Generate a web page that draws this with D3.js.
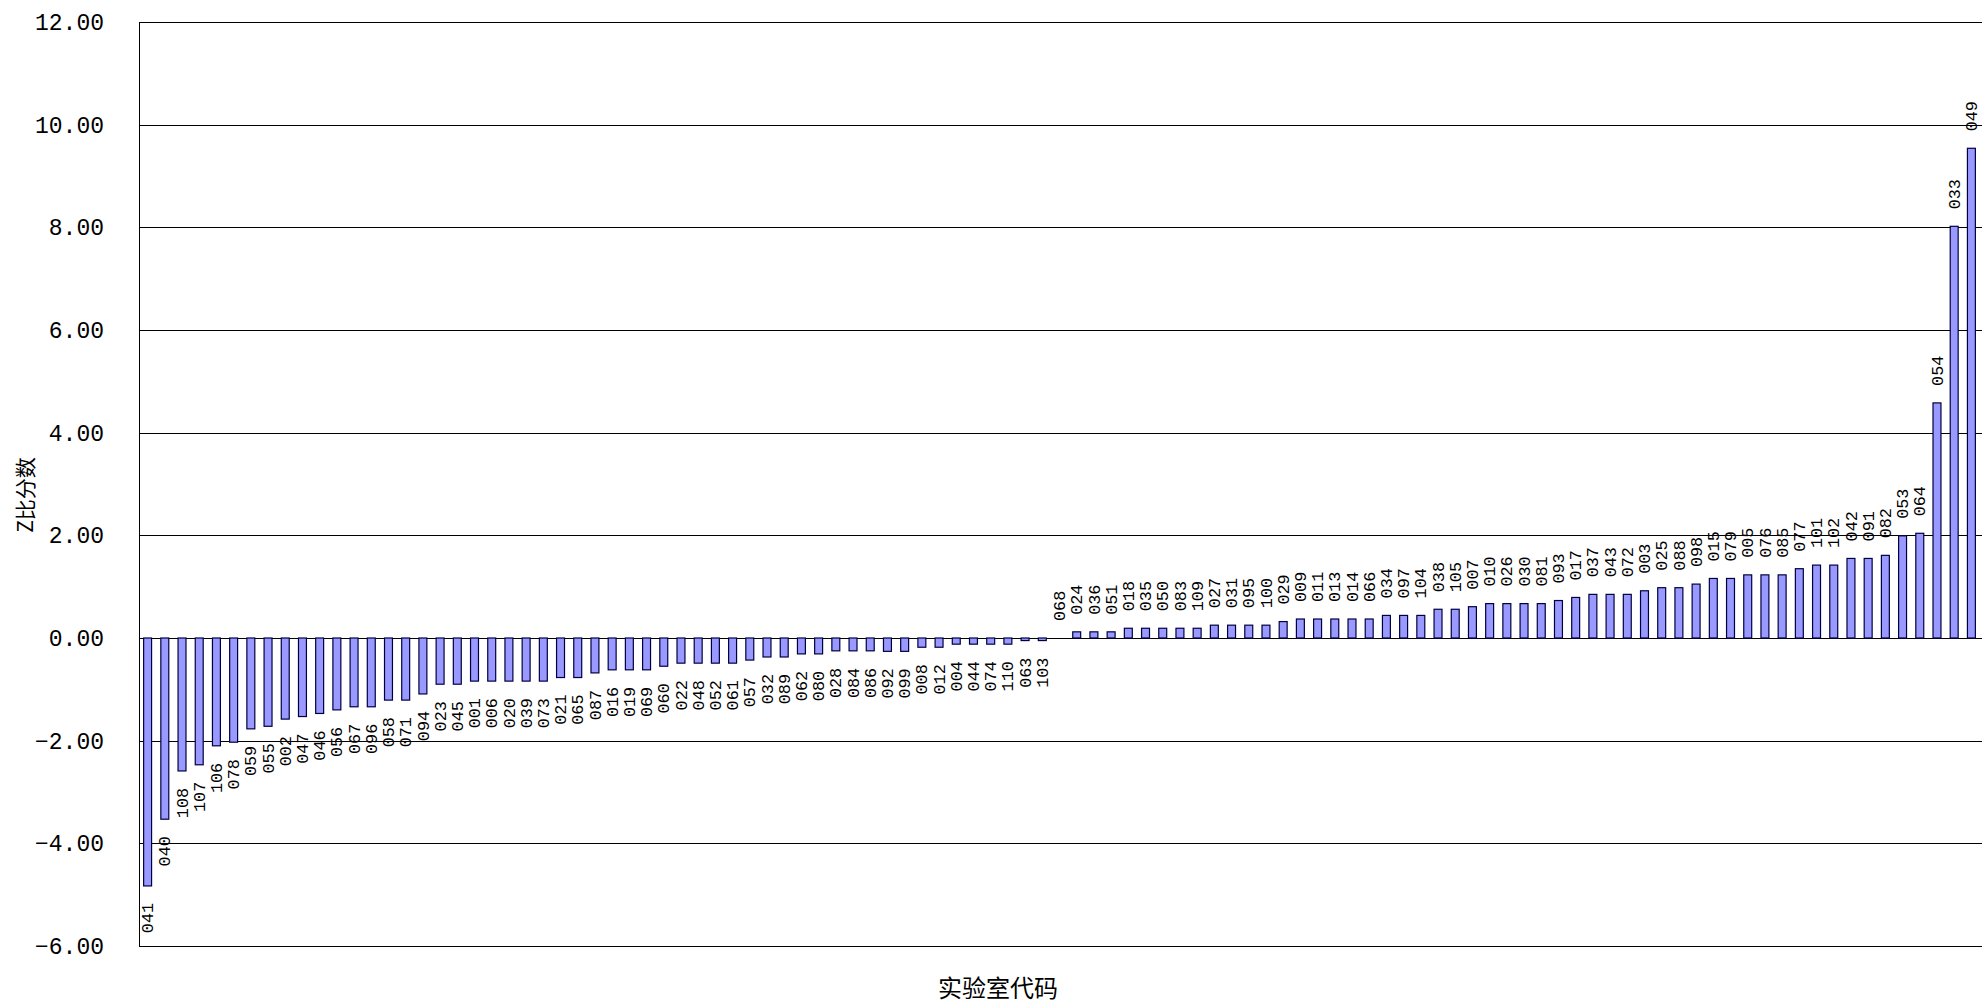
<!DOCTYPE html>
<html>
<head>
<meta charset="utf-8">
<script src="https://cdn.jsdelivr.net/npm/d3@7"></script>
<style>
  html, body { margin: 0; padding: 0; background: #fff; }
  svg { display: block; }
</style>
</head>
<body>
<svg id="chart" width="1982" height="1003"></svg>
<script>
const labs = ["041","040","108","107","106","078","059","055","002","047","046","056","067","096","058","071","094","023","045","001","006","020","039","073","021","065","087","016","019","069","060","022","048","052","061","057","032","089","062","080","028","084","086","092","099","008","012","004","044","074","110","063","103",
"068","024","036","051","018","035","050","083","109","027","031","095","100","029","009","011","013","014","066","034","097","104","038","105","007","010","026","030","081","093","017","037","043","072","003","025","088","098","015","079","005","076","085","077","101","102","042","091","082","053","064","054","033","049"];

const zscores = [-4.83,-3.53,-2.59,-2.47,-2.10,-2.03,-1.77,-1.72,-1.58,-1.53,-1.47,-1.40,-1.34,-1.34,-1.21,-1.21,-1.09,-0.90,-0.90,-0.84,-0.84,-0.84,-0.84,-0.84,-0.77,-0.77,-0.68,-0.62,-0.62,-0.62,-0.55,-0.49,-0.49,-0.49,-0.49,-0.43,-0.37,-0.37,-0.31,-0.31,-0.25,-0.25,-0.25,-0.26,-0.26,-0.18,-0.18,-0.12,-0.12,-0.12,-0.12,-0.05,-0.05,
0.00,0.12,0.12,0.12,0.19,0.19,0.19,0.19,0.19,0.25,0.25,0.25,0.25,0.32,0.37,0.37,0.37,0.37,0.37,0.44,0.44,0.44,0.56,0.56,0.61,0.67,0.67,0.67,0.67,0.73,0.79,0.85,0.85,0.85,0.92,0.98,0.98,1.05,1.16,1.16,1.23,1.23,1.23,1.35,1.42,1.42,1.55,1.55,1.61,1.99,2.04,4.58,8.02,9.54];

const yTicks = [-6,-4,-2,0,2,4,6,8,10,12];
const xTitle = "实验室代码";
const yTitle = "Z比分数";

const svg = d3.select("#chart");
const pL = 139, pR = 1980, pT = 22, pB = 946;

const x = d3.scaleBand().domain(labs).range([pL, pR]).paddingInner(0.48).paddingOuter(0.24);
const y = d3.scaleLinear().domain([-6, 12]).range([pB, pT]);

svg.append("rect").attr("width", 1982).attr("height", 1003).attr("fill", "#fff");

// gridlines
svg.append("g").selectAll("line").data(yTicks).join("line")
  .attr("x1", pL).attr("x2", 1982)
  .attr("y1", d => Math.round(y(d)) + 0.5).attr("y2", d => Math.round(y(d)) + 0.5)
  .attr("stroke", "#000").attr("stroke-width", 1);

// plot border
svg.append("rect")
  .attr("x", pL + 0.5).attr("y", Math.round(y(12)) + 0.5)
  .attr("width", 1982 - pL + 4).attr("height", Math.round(y(-6)) - Math.round(y(12)))
  .attr("fill", "none").attr("stroke", "#000").attr("stroke-width", 1);

// y axis tick labels
const yAxis = d3.axisLeft(y).tickValues(yTicks).tickSize(0).tickPadding(0).tickFormat(d3.format(".2f"));
const gy = svg.append("g").attr("transform", `translate(104,0)`).call(yAxis);
gy.select(".domain").remove();
gy.selectAll("text")
  .attr("font-family", "'Liberation Mono', monospace")
  .attr("font-size", 23)
  .attr("fill", "#000");

// bars
const data = labs.map((l, i) => ({lab: l, v: zscores[i]}));
svg.append("g").selectAll("rect").data(data).join("rect")
  .attr("x", d => x(d.lab) + 0.5)
  .attr("width", x.bandwidth() - 1)
  .attr("y", d => Math.min(y(0), y(d.v)))
  .attr("height", d => Math.abs(y(d.v) - y(0)))
  .attr("fill", "#9999FF")
  .attr("stroke", "#000040")
  .attr("stroke-width", 1.2);

// value labels (lab codes)
const gap = 17;
svg.append("g").selectAll("text").data(data).join("text")
  .attr("transform", d => {
    const cx = x(d.lab) + x.bandwidth() / 2;
    const cy = d.v >= 0 ? y(d.v) - gap : y(d.v) + gap;
    return `translate(${cx},${cy}) rotate(-90) scale(1.05,1)`;
  })
  .attr("text-anchor", d => d.v >= 0 ? "start" : "end")
  .attr("dy", "0.35em")
  .attr("font-family", "'Liberation Mono', monospace")
  .attr("font-size", 16)
  .attr("fill", "#000")
  .text(d => d.lab);

// axis titles
svg.append("text")
  .attr("x", 998).attr("y", 997)
  .attr("text-anchor", "middle")
  .attr("font-family", "'Noto Sans CJK SC', sans-serif")
  .attr("font-size", 24)
  .attr("fill", "#000")
  .text(xTitle);

svg.append("text")
  .attr("transform", "translate(33,495) rotate(-90)")
  .attr("text-anchor", "middle")
  .attr("font-family", "'Noto Sans CJK SC', sans-serif")
  .attr("font-size", 21)
  .attr("fill", "#000")
  .text(yTitle);
</script>
</body>
</html>
